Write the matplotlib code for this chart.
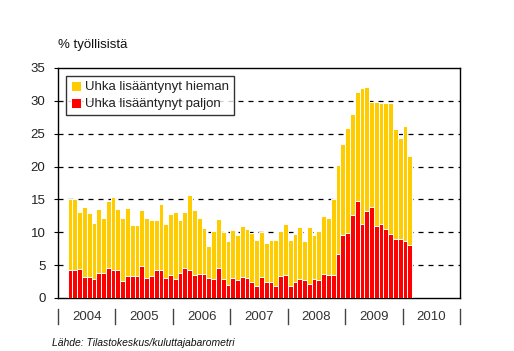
import matplotlib
matplotlib.use("Agg")
import matplotlib.pyplot as plt
import matplotlib.transforms as mtransforms
import numpy as np

# Monthly data, March 2004 - February 2010 (% of employed)
years = ["2004", "2005", "2006", "2007", "2008", "2009", "2010"]
total = [15.1, 15.1, 13.1, 13.9, 13.0, 11.4, 13.6, 12.2, 14.7, 15.3, 13.6, 12.1,
         13.7, 11.1, 11.1, 13.4, 12.2, 11.9, 11.9, 14.3, 11.3, 12.8, 13.1, 11.9,
         13.1, 15.6, 13.4, 12.2, 10.6, 7.9, 10.2, 12.0, 10.0, 8.7, 10.3, 9.6,
         11.0, 10.5, 9.9, 8.9, 10.1, 8.4, 8.9, 8.9, 10.2, 11.3, 8.9, 9.8,
         10.8, 8.7, 10.8, 9.6, 10.2, 12.5, 12.1, 15.1, 20.2, 23.4, 25.8, 28.0,
         31.3, 31.9, 32.1, 29.8, 29.8, 29.6, 29.7, 29.6, 25.7, 24.3, 26.1, 21.6]
paljon = [4.2, 4.3, 4.4, 3.2, 3.2, 2.9, 3.8, 3.8, 4.5, 4.2, 4.2, 2.6,
          3.4, 3.4, 3.4, 4.8, 3.1, 3.3, 4.2, 4.3, 3.1, 3.5, 2.9, 3.8,
          4.6, 4.2, 3.5, 3.7, 3.6, 3.0, 2.9, 4.5, 2.9, 2.0, 3.1, 2.7,
          3.2, 3.1, 2.5, 1.9, 3.2, 2.5, 2.5, 1.8, 3.3, 3.5, 1.9, 2.5,
          2.9, 2.7, 2.2, 2.9, 2.7, 3.7, 3.5, 3.5, 6.7, 9.6, 9.9, 12.7,
          14.8, 11.3, 13.3, 13.8, 10.9, 11.2, 10.5, 9.7, 9.0, 9.0, 8.7, 8.1]
hieman = [round(t - p, 1) for t, p in zip(total, paljon)]
start_month = 2  # March 2004 (months counted from Jan 2004)

plt.rcParams['font.family'] = ['Liberation Sans', 'DejaVu Sans']

fig = plt.figure(figsize=(5.14, 3.51), dpi=100)
fig.patch.set_facecolor('white')
ax = fig.add_axes([58/514, 1 - 298/351, (460-58)/514, (298-68)/351])

x = np.arange(len(total)) + start_month
ax.bar(x, paljon, width=1.0, align='edge', color='#FF0000', edgecolor='white',
       linewidth=0.7, label='Uhka lisääntynyt paljon', zorder=3)
ax.bar(x, hieman, bottom=paljon, width=1.0, align='edge', color='#FFCC00',
       edgecolor='white', linewidth=0.7, label='Uhka lisääntynyt hieman', zorder=3)

ax.set_xlim(0, 12 * len(years))
ax.set_ylim(0, 35)
ax.set_yticks(range(0, 36, 5))
ax.set_yticklabels([str(v) for v in range(0, 36, 5)], fontsize=9.5, color='#222222')
ax.tick_params(axis='y', direction='out', length=3, width=0.8, pad=6)
ax.set_xticks([])
for yv in range(5, 35, 5):
    ax.axhline(yv, color='black', linestyle=(0, (4, 4)), linewidth=0.9, zorder=1)
for s in ax.spines.values():
    s.set_linewidth(1.0)
    s.set_color('black')

# year labels and separators below the axis
trans = mtransforms.blended_transform_factory(ax.transData, fig.transFigure)
for i in range(len(years) + 1):
    xx = 12 * i
    ax.plot([xx, xx], [1 - 309/351, 1 - 324/351], transform=trans, color='#444444',
            linewidth=1.0, clip_on=False)
for i, yname in enumerate(years):
    ax.text(12 * i + 6, 1 - 317/351, yname, transform=trans, ha='center',
            va='center', fontsize=9.5, color='#333333')

handles, labels = ax.get_legend_handles_labels()
leg = ax.legend(handles[::-1], labels[::-1], loc='upper left',
                bbox_to_anchor=(8/402, 1 - 8/230), fontsize=9.5, frameon=True,
                fancybox=False, edgecolor='black', handlelength=0.8,
                handleheight=0.8, handletextpad=0.3, borderpad=0.35,
                labelspacing=0.35, borderaxespad=0)
leg.get_frame().set_linewidth(1.0)
for t in leg.get_texts():
    t.set_color('#222222')

fig.text(58/514, 1 - 45/351, '% työllisistä', fontsize=9.5, ha='left',
         va='center', color='#111111')
fig.text(52/514, 1 - 343/351, 'Lähde: Tilastokeskus/kuluttajabarometri',
         fontsize=7.5, style='italic', ha='left', va='center', color='#111111')

fig.savefig('out.png', dpi=100, facecolor='white')
